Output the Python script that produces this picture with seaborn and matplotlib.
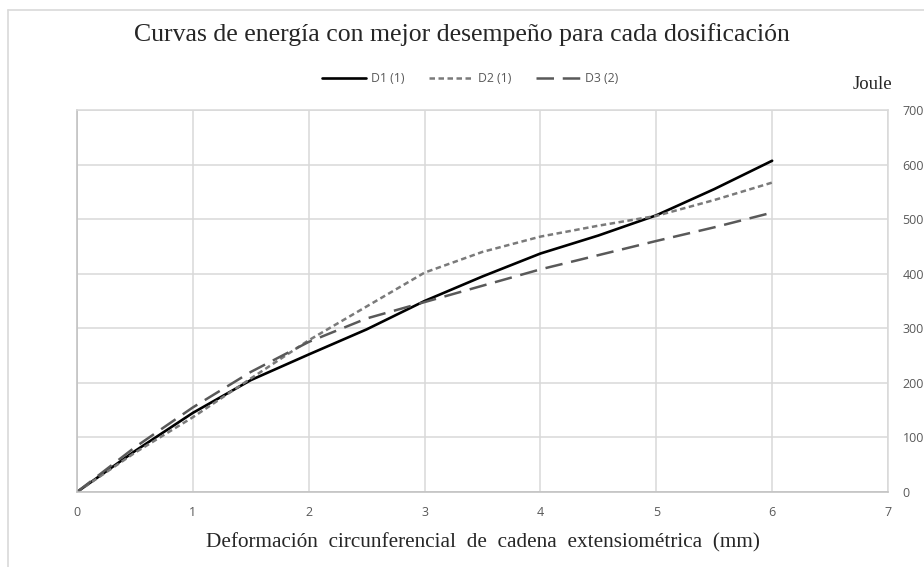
# Curvas de energia - recreated with seaborn

import pandas as pd
import seaborn as sns
import matplotlib.pyplot as plt
from matplotlib.lines import Line2D

# Data
deformacion = [0, 0.5, 1, 1.5, 2, 2.5, 3, 3.5, 4, 4.5, 5, 5.5, 6]
d1 = [0, 75, 145, 205, 252, 298, 350, 395, 437, 470, 507, 555, 607]
d2 = [0, 72, 137, 208, 278, 340, 402, 440, 468, 488, 506, 535, 567]
d3 = [0, 82, 155, 220, 275, 318, 348, 378, 408, 434, 460, 485, 512]
series_names = ["D1 (1)", "D2 (1)", "D3 (2)"]

x_ticks = [0, 1, 2, 3, 4, 5, 6, 7]
y_ticks = [0, 100, 200, 300, 400, 500, 600, 700]

df = pd.DataFrame({"x": deformacion * 3,
                   "energia": d1 + d2 + d3,
                   "serie": [series_names[0]] * len(d1) + [series_names[1]] * len(d2) + [series_names[2]] * len(d3)})

sns.set_style("white")
serif = ["Liberation Serif", "DejaVu Serif"]
sans = ["Open Sans", "DejaVu Sans"]

fig = plt.figure(figsize=(9.24, 5.67), dpi=100)
ax = fig.add_axes([77 / 924, 75 / 567, (888 - 77) / 924, (492 - 110) / 567])

styles = {
    "D1 (1)": dict(color="black", lw=1.9, ls="-"),
    "D2 (1)": dict(color="#7a7a7a", lw=1.8, ls=(0, (2.2, 1.4))),
    "D3 (2)": dict(color="#595959", lw=1.8, ls=(0, (7, 3.5))),
}
for name in series_names:
    sub = df[df["serie"] == name]
    sns.lineplot(data=sub, x="x", y="energia", ax=ax, label=name, **styles[name])

ax.set_xlim(0, 7)
ax.set_ylim(0, 700)
ax.set_xticks(x_ticks)
ax.set_yticks(y_ticks)
ax.grid(True, color="#d9d9d9", lw=1.1)
for s in ax.spines.values():
    s.set_color("#d9d9d9")
    s.set_linewidth(1.1)
ax.spines["left"].set_color("#bfbfbf")
ax.spines["bottom"].set_color("#bfbfbf")

ax.yaxis.tick_right()
ax.tick_params(axis="both", length=0, labelsize=9, labelcolor="#595959")
ax.tick_params(axis="y", pad=10.5)
ax.tick_params(axis="x", pad=10)
for lab in ax.get_xticklabels() + ax.get_yticklabels():
    lab.set_family(sans)

ax.set_xlabel("Deformación  circunferencial  de  cadena  extensiométrica  (mm)",
              family=serif, fontsize=15.3, color="#262626", labelpad=10)
ax.set_ylabel("")

fig.text(0.5, 1 - 35 / 567, "Curvas de energía con mejor desempeño para cada dosificación",
         ha="center", va="center", family=serif, fontsize=18.5, color="#262626")
fig.text(872 / 924, 1 - 85 / 567, "Joule", ha="center", va="center",
         family=serif, fontsize=13.5, color="#262626")

leg = ax.legend(loc="center", bbox_to_anchor=(470 / 924, 1 - 79 / 567),
                bbox_transform=fig.transFigure, ncol=3, frameon=False,
                fontsize=8.8, handlelength=3.6, columnspacing=2.0, handletextpad=0.4)
for t in leg.get_texts():
    t.set_color("#595959")
    t.set_family(sans)

# outer chart frame (left and top edges visible in the reference)
fig.add_artist(Line2D([8 / 924, 8 / 924], [0, 1 - 10 / 567], transform=fig.transFigure,
                      color="#d9d9d9", lw=1.2))
fig.add_artist(Line2D([8 / 924, 1], [1 - 10 / 567, 1 - 10 / 567], transform=fig.transFigure,
                      color="#d9d9d9", lw=1.2))

fig.savefig("out.png", dpi=100)
